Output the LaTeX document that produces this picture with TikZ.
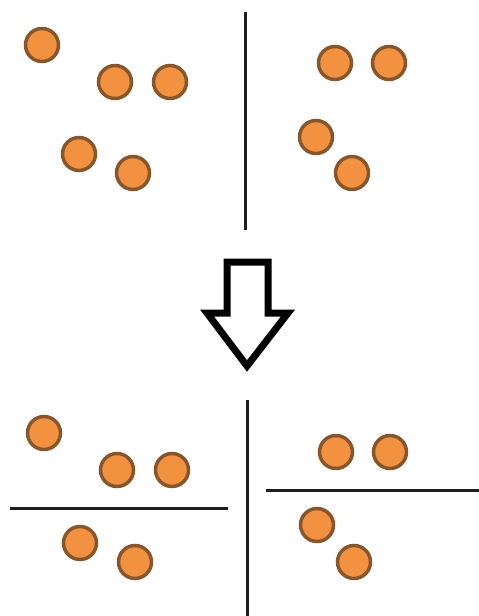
\documentclass[tikz,border=0pt]{standalone}
\begin{document}
\begin{tikzpicture}[x=1pt,y=-1pt,
  ball/.style={circle,draw=ballborder,fill=ballfill,line width=3.5pt,minimum size=33pt,inner sep=0pt},
  divider/.style={draw=linegray,line width=3pt},
  bigarrow/.style={draw=black,line width=7pt,line join=miter,fill=white}]
\definecolor{ballfill}{HTML}{F29140}
\definecolor{ballborder}{HTML}{87562B}
\definecolor{linegray}{HTML}{1E1E1E}
\useasboundingbox (0,0) rectangle (479,616);
% top
\node[ball] (t1) at (42,45) {};
\node[ball] (t2) at (115,82) {};
\node[ball] (t3) at (170,82) {};
\node[ball] (t4) at (79,154) {};
\node[ball] (t5) at (133,173) {};
\node[ball] (t6) at (335,63) {};
\node[ball] (t7) at (389,63) {};
\node[ball] (t8) at (316,137) {};
\node[ball] (t9) at (352,173) {};
\coordinate (tv1) at (245,12);
\coordinate (tv2) at (245,230);
\draw[divider] (tv1) -- (tv2);
% arrow
\draw[bigarrow] (227,262) -- (268,262) -- (268,313) -- (288,313) -- (247,366) -- (207,313) -- (227,313) -- cycle;
% bottom
\node[ball] (b1) at (44,433) {};
\node[ball] (b2) at (117,470) {};
\node[ball] (b3) at (172,470) {};
\node[ball] (b4) at (80,543) {};
\node[ball] (b5) at (135,562) {};
\node[ball] (b6) at (336,452) {};
\node[ball] (b7) at (390,452) {};
\node[ball] (b8) at (317,525) {};
\node[ball] (b9) at (354,562) {};
\coordinate (bv1) at (247,400);
\coordinate (bv2) at (247,616);
\coordinate (bl1) at (10,508);
\coordinate (bl2) at (228,508);
\coordinate (br1) at (266,490);
\coordinate (br2) at (479,490);
\draw[divider] (bv1) -- (bv2);
\draw[divider] (bl1) -- (bl2);
\draw[divider] (br1) -- (br2);
\end{tikzpicture}
\end{document}
